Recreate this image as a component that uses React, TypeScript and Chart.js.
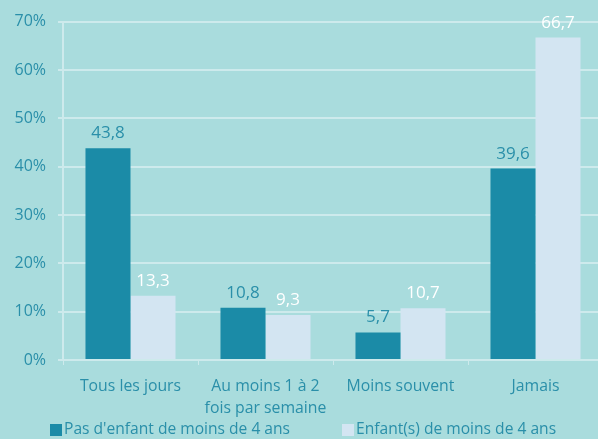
import React, { useEffect, useRef } from "react";
import { Chart, registerables } from "chart.js";

Chart.register(...registerables);

const categories: (string | string[])[] = [
  "Tous les jours",
  ["Au moins 1 à 2", "fois par semaine"],
  "Moins souvent",
  "Jamais",
];
const seriesNoChild = [43.8, 10.8, 5.7, 39.6];
const seriesChild = [13.3, 9.3, 10.7, 66.7];
const seriesLabels = ["Pas d'enfant de moins de 4 ans", "Enfant(s) de moins de 4 ans"];
const yTicks = [0, 10, 20, 30, 40, 50, 60, 70];

const BG = "#a9dcdd";
const DARK = "#1b8ba7";
const LIGHT = "#d3e5f2";
const TEXT = "#2a8fa9";
const GRID = "#cdeaec";
const FONT = "'Open Sans', 'Noto Sans', sans-serif";

const valueLabels = {
  id: "valueLabels",
  afterDatasetsDraw(chart: any) {
    const ctx = chart.ctx;
    ctx.save();
    ctx.font = `17px ${FONT}`;
    ctx.textAlign = "center";
    ctx.textBaseline = "alphabetic";
    chart.data.datasets.forEach((ds: any, i: number) => {
      const meta = chart.getDatasetMeta(i);
      ctx.fillStyle = i === 0 ? TEXT : "#ffffff";
      meta.data.forEach((bar: any, j: number) => {
        const txt = String(ds.data[j]).replace(".", ",");
        ctx.fillText(txt, bar.x, bar.y - 10);
      });
    });
    ctx.restore();
  },
};

const customLegend = {
  id: "customLegend",
  afterDraw(chart: any) {
    const ctx = chart.ctx;
    ctx.save();
    ctx.font = `15.6px ${FONT}`;
    ctx.textBaseline = "middle";
    ctx.textAlign = "left";
    const y = 430;
    const xs = [50, 342];
    chart.data.datasets.forEach((ds: any, i: number) => {
      ctx.fillStyle = ds.backgroundColor;
      ctx.fillRect(xs[i], y - 6, 12, 12);
      ctx.fillStyle = TEXT;
      ctx.fillText(ds.label, xs[i] + 14, y);
    });
    ctx.restore();
  },
};

export default function App() {
  const ref = useRef<HTMLCanvasElement>(null);
  useEffect(() => {
    const chart = new Chart(ref.current!, {
      type: "bar",
      data: {
        labels: categories,
        datasets: [
          { label: seriesLabels[0], data: seriesNoChild, backgroundColor: DARK, barPercentage: 1, categoryPercentage: 0.667 },
          { label: seriesLabels[1], data: seriesChild, backgroundColor: LIGHT, barPercentage: 1, categoryPercentage: 0.667 },
        ],
      },
      options: {
        animation: false,
        responsive: false,
        maintainAspectRatio: false,
        layout: { padding: { top: 12, right: 0, left: 0, bottom: 0 } },
        plugins: {
          legend: { display: false },
          tooltip: { enabled: false },
        },
        scales: {
          x: {
            grid: { display: true, drawOnChartArea: false, drawTicks: true, tickLength: 5, color: GRID, offset: true },
            border: { color: GRID, width: 2 },
            ticks: { color: TEXT, font: { size: 15.8, family: FONT, lineHeight: 1.4 }, padding: 10, maxRotation: 0, autoSkip: false },
            afterFit(scale: any) { scale.height = 79; },
          },
          y: {
            min: 0,
            max: 70,
            afterBuildTicks(scale: any) { scale.ticks = yTicks.map((v) => ({ value: v })); },
            grid: { color: GRID, lineWidth: 2, tickLength: 5, drawTicks: true },
            border: { color: GRID, width: 2 },
            ticks: { color: TEXT, font: { size: 16, family: FONT }, padding: 12, callback: (v: any) => v + "%" },
            afterFit(scale: any) { scale.width = 63; },
          },
        },
      },
      plugins: [valueLabels, customLegend],
    });
    return () => chart.destroy();
  }, []);
  return (
    <div style={{ position: "fixed", left: 0, top: 0, width: 598, height: 439, background: BG, overflow: "hidden" }}>
      <canvas ref={ref} width={603} height={439} style={{ width: 603, height: 439 }} />
    </div>
  );
}
